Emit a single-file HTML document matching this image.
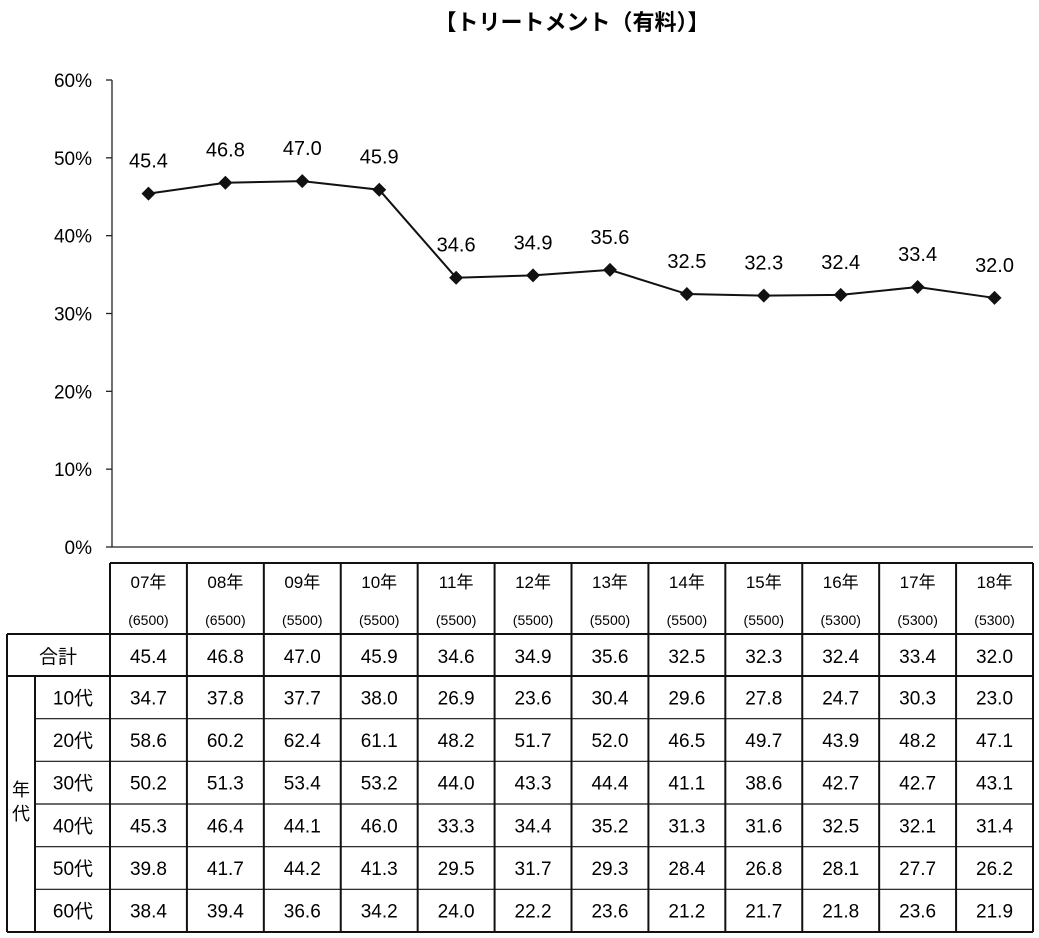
<!DOCTYPE html>
<html><head><meta charset="utf-8"><style>
body{margin:0;background:#fff;}
svg{display:block;font-family:"Liberation Sans","Noto Sans CJK JP",sans-serif;}
</style></head><body>
<svg id="c" width="1039" height="938">
<text x="572" y="30" text-anchor="middle" font-size="22" font-weight="bold">【トリートメント（有料）】</text>
</svg>
<script>
const years=["07年","08年","09年","10年","11年","12年","13年","14年","15年","16年","17年","18年"];
const counts=["(6500)","(6500)","(5500)","(5500)","(5500)","(5500)","(5500)","(5500)","(5500)","(5300)","(5300)","(5300)"];
const totals=[45.4,46.8,47.0,45.9,34.6,34.9,35.6,32.5,32.3,32.4,33.4,32.0];
const ageLabels=["10代","20代","30代","40代","50代","60代"];
const age10=[34.7,37.8,37.7,38.0,26.9,23.6,30.4,29.6,27.8,24.7,30.3,23.0];
const age20=[58.6,60.2,62.4,61.1,48.2,51.7,52.0,46.5,49.7,43.9,48.2,47.1];
const age30=[50.2,51.3,53.4,53.2,44.0,43.3,44.4,41.1,38.6,42.7,42.7,43.1];
const age40=[45.3,46.4,44.1,46.0,33.3,34.4,35.2,31.3,31.6,32.5,32.1,31.4];
const age50=[39.8,41.7,44.2,41.3,29.5,31.7,29.3,28.4,26.8,28.1,27.7,26.2];
const age60=[38.4,39.4,36.6,34.2,24.0,22.2,23.6,21.2,21.7,21.8,23.6,21.9];
const yTicks=[0,10,20,30,40,50,60];

const svg=document.getElementById('c');
const NS='http://www.w3.org/2000/svg';
const X0=110,X1=1033,Y0=547,Y60=80;
const colW=(X1-X0)/years.length;
const xc=i=>X0+colW*(i+0.5);
const y=v=>Y0-(v/60)*(Y0-Y60);
function mk(tag,attrs,txt){const e=document.createElementNS(NS,tag);for(const k in attrs)e.setAttribute(k,attrs[k]);if(txt!==undefined)e.textContent=txt;svg.appendChild(e);return e;}

// axes
let e=mk('line',{x1:X0+2,y1:Y60,x2:X0+2,y2:Y0,stroke:'#222','stroke-width':1.3});


e=mk('line',{x1:X0+2,y1:Y0,x2:X1,y2:Y0,stroke:'#222','stroke-width':1.3});


yTicks.forEach(t=>{
  e=mk('line',{x1:X0-4,y1:y(t),x2:X0+2,y2:y(t),stroke:'#222','stroke-width':1.3});
  
  
  e=mk('text',{x:92,y:y(t)+7,'text-anchor':'end','font-size':19},t+'%');
  
  
});
// line
e=mk('polyline',{points:totals.map((v,i)=>xc(i)+','+y(v)).join(' '),fill:'none',stroke:'#111','stroke-width':2});


totals.forEach((v,i)=>{
  const cx=xc(i),cy=y(v);
  e=mk('polygon',{points:`${cx},${cy-7} ${cx+7},${cy} ${cx},${cy+7} ${cx-7},${cy}`,fill:'#111'});
  
  
  e=mk('text',{x:cx,y:cy-26,'text-anchor':'middle','font-size':20},v.toFixed(1));
  
  
});
// table
const T0=563,TH=634,TT=676,RH=(932-676)/6,L=7,L2=35;
const ln=(x1,y1,x2,y2,w)=>{const l=mk('line',{x1,y1,x2,y2,stroke:'#111','stroke-width':w||2});};
ln(X0,T0,X1,T0);ln(L,TH,X1,TH);ln(L,TT,X1,TT);ln(L,932,X1,932);
for(let r=1;r<6;r++)ln(L2,TT+r*RH,X1,TT+r*RH,1.2);
ln(L,TH,L,932);ln(L2,TT,L2,932);
for(let i=0;i<=years.length;i++)ln(X0+i*colW,T0,X0+i*colW,932);
years.forEach((yr,i)=>{
  e=mk('text',{x:xc(i),y:588,'text-anchor':'middle','font-size':17},yr);
  
  
  e=mk('text',{x:xc(i),y:625,'text-anchor':'middle','font-size':14},counts[i]);
  
  
  e=mk('text',{x:xc(i),y:663,'text-anchor':'middle','font-size':19},totals[i].toFixed(1));
  
  
});
e=mk('text',{x:58,y:663,'text-anchor':'middle','font-size':19},'合計');


e=mk('text',{x:21,y:796,'text-anchor':'middle','font-size':18},'年');


e=mk('text',{x:21,y:820,'text-anchor':'middle','font-size':18},'代');


[age10,age20,age30,age40,age50,age60].forEach((row,r)=>{
  const ty=TT+r*RH+RH/2+7;
  e=mk('text',{x:73,y:ty,'text-anchor':'middle','font-size':19},ageLabels[r]);
  
  
  row.forEach((v,i)=>{
    e=mk('text',{x:xc(i),y:ty,'text-anchor':'middle','font-size':19},v.toFixed(1));
    
    
  });
});
</script>
</body></html>
